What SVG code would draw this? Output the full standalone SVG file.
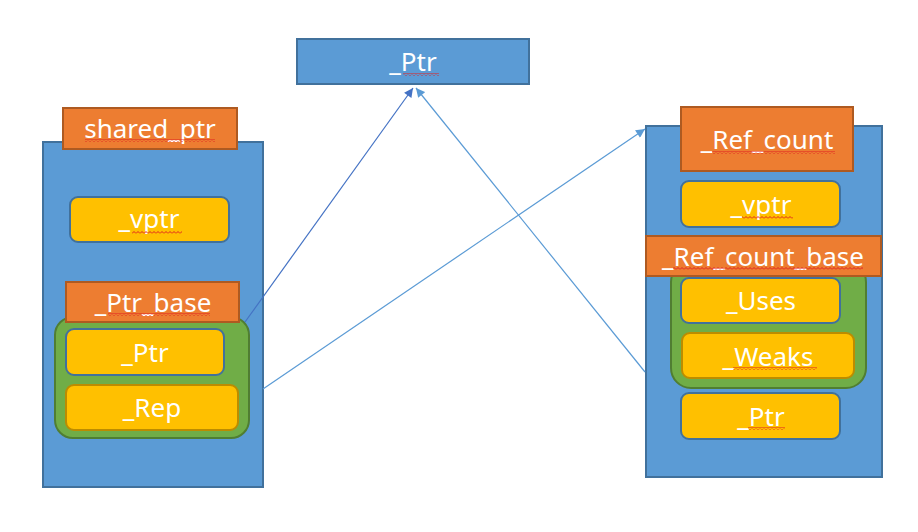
<svg xmlns="http://www.w3.org/2000/svg" width="918" height="532" viewBox="0 0 918 532">
<defs>
<style>
.bg{fill:#5B9BD5;stroke:#41719C;stroke-width:2}
.or{fill:#ED7D31;stroke:#AE5A21;stroke-width:2}
.ye{fill:#FFC000;stroke:#41719C;stroke-width:2}
.yg{fill:#FFC000;stroke:#BC8C00;stroke-width:2}
.gr{fill:#70AD47;stroke:#507E32;stroke-width:2}
text{font-family:"Noto Sans","Open Sans","DejaVu Sans",sans-serif;font-size:26px;fill:#FFFFFF;text-anchor:middle}
.sq{fill:url(#squiggle)}
.c1{stroke:#4472C4;stroke-width:1.2;fill:none;marker-end:url(#a1)}
.c2{stroke:#5B9BD5;stroke-width:1.2;fill:none;marker-end:url(#a2)}
</style>
<pattern id="squiggle" patternUnits="userSpaceOnUse" x="0" y="0" width="4" height="3">
<path d="M0,2.5 L2,0.5 L4,2.5" fill="none" stroke="#E02020" stroke-width="1"/>
</pattern>
<marker id="a1" viewBox="0 0 10 10" refX="10" refY="5" markerWidth="11" markerHeight="9" markerUnits="userSpaceOnUse" orient="auto">
<path d="M0,0 L10,5 L0,10 z" fill="#4472C4"/>
</marker>
<marker id="a2" viewBox="0 0 10 10" refX="10" refY="5" markerWidth="11" markerHeight="9" markerUnits="userSpaceOnUse" orient="auto">
<path d="M0,0 L10,5 L0,10 z" fill="#5B9BD5"/>
</marker>
</defs>

<g id="ptr-top">
<rect class="bg" x="297" y="39" width="232" height="45"/>
<text x="413" y="71">_Ptr</text>
<rect class="sq" x="403" y="73" width="36" height="3"/>
</g>

<g id="shared_ptr">
<rect class="bg" x="43" y="142" width="220" height="345"/>
<g id="shared_ptr-label">
<rect class="or" x="63" y="108" width="174" height="41"/>
<text x="150" y="138">shared_ptr</text>
<rect class="sq" x="85" y="139" width="130" height="3"/>
</g>
<g id="left-vptr">
<rect class="ye" x="70" y="197" width="159" height="45" rx="8"/>
<text x="149" y="228">_vptr</text>
<rect class="sq" x="132" y="231" width="50" height="3"/>
</g>
<g id="ptr_base">
<rect class="gr" x="55" y="317" width="194" height="121" rx="18"/>
<rect class="or" x="66" y="282" width="173" height="40"/>
<text x="153" y="312">_Ptr_base</text>
<rect class="sq" x="108" y="313" width="102" height="3"/>
</g>
<g id="left-ptr">
<rect class="ye" x="66" y="329" width="158" height="46" rx="8"/>
<text x="145" y="362">_Ptr</text>
</g>
<g id="left-rep">
<rect class="yg" x="66" y="385" width="172" height="45" rx="8"/>
<text x="152" y="417">_Rep</text>
</g>
</g>

<g id="ref_count">
<rect class="bg" x="646" y="126" width="236" height="351"/>
<g id="ref_count-label">
<rect class="or" x="681" y="107" width="172" height="64"/>
<text x="767" y="149">_Ref_count</text>
<rect class="sq" x="712" y="151" width="123" height="3"/>
</g>
<g id="right-vptr">
<rect class="ye" x="681" y="181" width="159" height="46" rx="8"/>
<text x="761" y="214">_vptr</text>
<rect class="sq" x="742" y="216" width="51" height="3"/>
</g>
<g id="ref_count_base">
<rect class="gr" x="671" y="262" width="195" height="126" rx="20"/>
<rect class="or" x="646" y="236" width="235" height="40"/>
<text x="763" y="266">_Ref_count_base</text>
<rect class="sq" x="673" y="267" width="190" height="3"/>
</g>
<g id="uses">
<rect class="ye" x="681" y="278" width="159" height="45" rx="8"/>
<text x="761" y="310">_Uses</text>
</g>
<g id="weaks">
<rect class="yg" x="682" y="333" width="172" height="45" rx="8"/>
<text x="768" y="366">_Weaks</text>
<rect class="sq" x="733" y="367" width="84" height="3"/>
</g>
<g id="right-ptr">
<rect class="ye" x="681" y="393" width="159" height="46" rx="8"/>
<text x="761" y="426">_Ptr</text>
<rect class="sq" x="748" y="427" width="37" height="3"/>
</g>
</g>

<g id="connectors">
<line class="c1" x1="245" y1="322" x2="413" y2="88"/>
<line class="c2" x1="263" y1="389" x2="645" y2="129"/>
<line class="c2" x1="645" y1="372" x2="416" y2="88"/>
</g>
</svg>
